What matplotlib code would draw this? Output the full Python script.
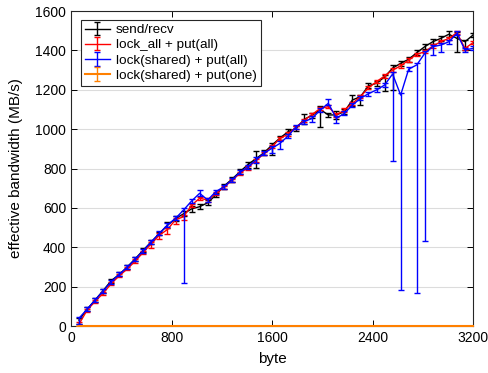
import matplotlib
matplotlib.use("Agg")
import matplotlib.pyplot as plt
import numpy as np

plt.rcParams['font.family'] = ['Liberation Sans', 'DejaVu Sans']

# message size in bytes
x_bytes = [64 * k for k in range(1, 51)]

labels = ["send/recv", "lock_all + put(all)", "lock(shared) + put(all)", "lock(shared) + put(one)"]
colors = ["#000000", "#FF0000", "#0000FF", "#FF8000"]

sendrecv = [30, 85, 132, 180, 230, 262, 300, 342, 386, 428,
            470, 512, 545, 570, 595, 606, 626, 665, 710, 745,
            783, 820, 850, 880, 919, 955, 987, 1004, 1050, 1070,
            1100, 1072, 1072, 1089, 1148, 1165, 1220, 1233, 1265, 1310,
            1334, 1355, 1388, 1419, 1444, 1461, 1482, 1461, 1444, 1478]
sendrecv_lo = [20, 10, 10, 10, 10, 10, 10, 10, 10, 10,
               10, 15, 12, 12, 15, 12, 12, 12, 12, 12,
               12, 15, 45, 12, 50, 12, 12, 12, 25, 12,
               90, 12, 20, 12, 30, 40, 12, 12, 70, 110,
               12, 12, 12, 12, 12, 12, 15, 70, 40, 12]
sendrecv_hi = [10, 10, 10, 10, 10, 10, 10, 10, 10, 10,
               10, 15, 12, 12, 15, 12, 12, 12, 12, 12,
               12, 15, 40, 12, 10, 12, 12, 12, 25, 12,
               20, 12, 20, 12, 25, 10, 12, 12, 10, 15,
               12, 12, 12, 12, 12, 12, 15, 30, 10, 12]

lockall = [10, 80, 125, 166, 215, 255, 290, 330, 375, 418,
           462, 490, 540, 555, 614, 649, 640, 672, 705, 738,
           775, 805, 840, 875, 911, 953, 975, 1010, 1045, 1075,
           1105, 1114, 1072, 1097, 1131, 1165, 1210, 1241, 1270, 1300,
           1321, 1351, 1380, 1393, 1422, 1444, 1461, 1490, 1410, 1439]
lockall_lo = [8, 8, 8, 8, 8, 8, 8, 8, 8, 20,
              20, 25, 20, 15, 8, 8, 8, 8, 8, 8,
              8, 15, 8, 8, 8, 8, 8, 8, 8, 8,
              8, 8, 8, 8, 8, 8, 8, 8, 8, 8,
              8, 8, 8, 8, 8, 8, 8, 8, 8, 8]
lockall_hi = [8] * 50

lockshared_all = [40, 85, 132, 178, 225, 262, 298, 340, 383, 428,
                  471, 513, 547, 589, 635, 674, 640, 682, 707, 741,
                  780, 809, 843, 877, 903, 928, 965, 1012, 1038, 1055,
                  1097, 1131, 1055, 1080, 1122, 1156, 1180, 1199, 1224, 1280,
                  1173, 1305, 1326, 1385, 1419, 1427, 1444, 1486, 1402, 1410]
lockshared_all_lo = [30, 10, 10, 10, 10, 10, 10, 10, 10, 10,
                     10, 10, 10, 371, 10, 15, 10, 10, 10, 10,
                     10, 10, 15, 10, 25, 30, 10, 10, 10, 20,
                     10, 10, 25, 10, 10, 10, 10, 10, 10, 442,
                     990, 10, 1157, 953, 40, 35, 10, 10, 10, 10]
lockshared_all_hi = [5, 10, 10, 10, 10, 10, 10, 10, 10, 10,
                     10, 10, 10, 10, 10, 15, 10, 10, 10, 10,
                     10, 10, 15, 10, 10, 10, 10, 10, 10, 10,
                     10, 20, 10, 10, 10, 10, 10, 10, 10, 10,
                     10, 10, 10, 10, 10, 10, 10, 10, 10, 10]

lockshared_one = [0] * 50
lockshared_one_err = [1] * 50

fig = plt.figure(figsize=(4.89, 3.73), dpi=100)
ax = fig.add_axes([0.1452, 0.126, 0.8221, 0.8445])

series = [
    (sendrecv, sendrecv_lo, sendrecv_hi),
    (lockall, lockall_lo, lockall_hi),
    (lockshared_all, lockshared_all_lo, lockshared_all_hi),
    (lockshared_one, lockshared_one_err, lockshared_one_err),
]
handles = []
for i, (vals, lo, hi) in enumerate(series):
    h = ax.errorbar(x_bytes, vals, yerr=[lo, hi], color=colors[i], lw=1.0,
                    elinewidth=1.0, capsize=2.5, capthick=1.0, label=labels[i],
                    zorder=3 + i)
    if i == 3:
        for art in h.lines[0:1]:
            art.set_clip_on(False)
            art.set_linewidth(1.5)
    handles.append(h)

ax.set_xlim(0, 3200)
ax.set_ylim(0, 1600)
ax.set_xticks([0, 800, 1600, 2400, 3200])
ax.set_yticks(np.arange(0, 1601, 200))
ax.yaxis.grid(True, color="#dcdcdc", lw=0.8)
ax.set_axisbelow(True)
ax.tick_params(direction="in", top=True, right=True, length=4, labelsize=10, width=0.7)
for s in ax.spines.values():
    s.set_linewidth(0.8)
    s.set_color("#262626")

ax.set_xlabel("byte", fontsize=11, labelpad=5)
ax.set_ylabel("effective bandwidth (MB/s)", fontsize=11, labelpad=9)

leg = ax.legend(handles=handles, labels=labels, loc="upper left",
                bbox_to_anchor=(0.024, 0.972), fontsize=9.7, frameon=True,
                fancybox=False, edgecolor="#262626", framealpha=1,
                handlelength=1.9, handletextpad=0.4, borderpad=0.3,
                labelspacing=0.2, borderaxespad=0)
leg.get_frame().set_linewidth(0.8)

fig.savefig("out.png", dpi=100)
